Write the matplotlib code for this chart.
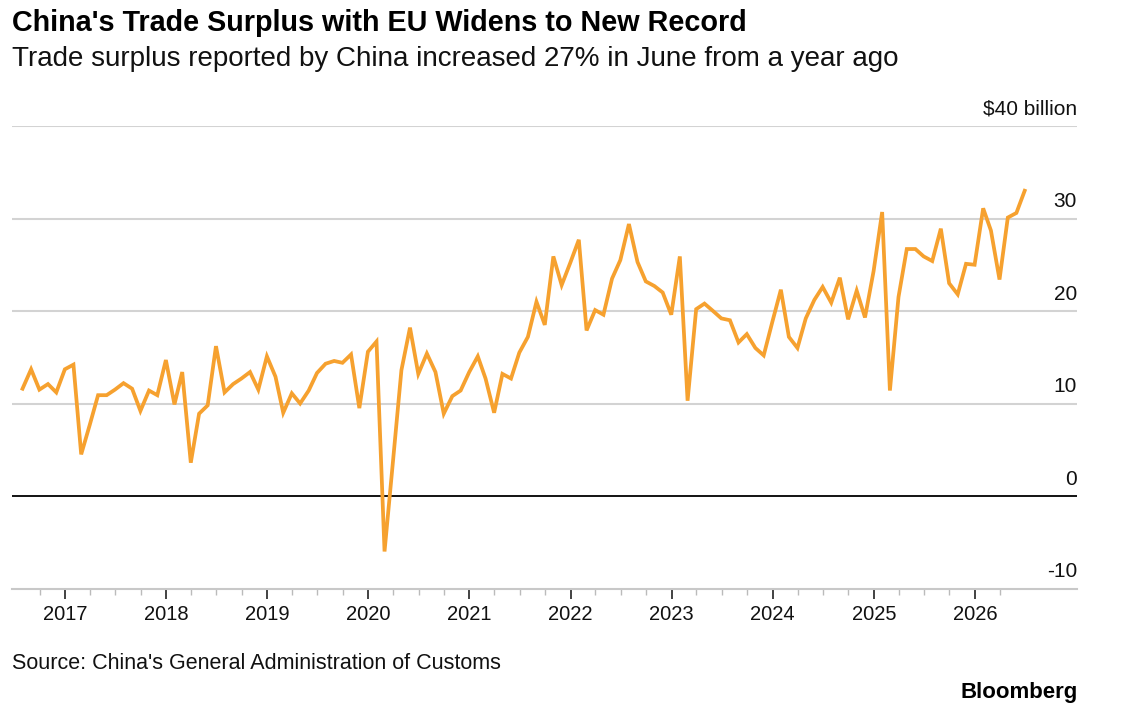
import pandas as pd
import numpy as np
import matplotlib
matplotlib.use('Agg')
import matplotlib.pyplot as plt
import matplotlib.dates as mdates

# Monthly trade surplus with the EU, $ billion (Jul 2016 - Jun 2026)
surplus = [
    11.6, 13.7, 11.5, 12.1, 11.2, 13.7, 14.2, 4.5, 7.7, 10.9, 10.9, 11.5,
    12.2, 11.6, 9.2, 11.4, 10.9, 14.7, 9.9, 13.4, 3.6, 8.9, 9.8, 16.2,
    11.2, 12.1, 12.7, 13.4, 11.5, 15.1, 12.9, 9.0, 11.1, 10.0, 11.4, 13.3,
    14.3, 14.6, 14.4, 15.3, 9.5, 15.6, 16.7, -6.0, 3.9, 13.6, 18.2, 13.2,
    15.4, 13.4, 8.9, 10.8, 11.4, 13.4, 15.1, 12.7, 9.0, 13.2, 12.7, 15.5,
    17.2, 21.0, 18.5, 25.9, 22.8, 25.2, 27.7, 17.9, 20.1, 19.6, 23.5, 25.5,
    29.4, 25.3, 23.2, 22.7, 22.0, 19.6, 25.9, 10.3, 20.2, 20.8, 20.0, 19.2,
    19.0, 16.6, 17.5, 16.0, 15.2, 18.8, 22.3, 17.2, 16.0, 19.2, 21.2, 22.6,
    20.9, 23.6, 19.1, 22.2, 19.3, 24.3, 30.7, 11.4, 21.5, 26.7, 26.7, 25.9,
    25.4, 28.9, 23.0, 21.8, 25.1, 25.0, 31.1, 28.7, 23.4, 30.1, 30.6, 33.0,
]
dates = pd.date_range('2016-07-31', periods=len(surplus), freq='ME')

y_ticks = [-10, 0, 10, 20, 30, 40]
y_labels = ['-10', '0', '10', '20', '30', '$40 billion']
years = list(range(2017, 2027))

plt.rcParams['font.family'] = ['Liberation Sans', 'DejaVu Sans']

W, H = 1130, 712
fig = plt.figure(figsize=(W / 100, H / 100), dpi=100)
left, right, top, bottom = 12, 1077, 126, 588.5
ax = fig.add_axes([left / W, 1 - bottom / H, (right - left) / W, (bottom - top) / H])

ax.set_xlim(pd.Timestamp('2016-06-23'), pd.Timestamp('2027-01-05'))
ax.set_ylim(-10, 40)

# gridlines
for v in y_ticks[1:]:
    if v == 0:
        ax.axhline(v, color='black', lw=1.3, zorder=2)
    else:
        ax.axhline(v, color='#d3d3d3', lw=1.5, zorder=1)

ax.plot(dates, surplus, color='#F6A12F', lw=2.7, solid_joinstyle='miter', zorder=3)

# y labels sit above gridlines at the right edge
for v, lab in zip(y_ticks, y_labels):
    ax.annotate(lab, xy=(1, v), xycoords=('axes fraction', 'data'),
                xytext=(0, 8), textcoords='offset points',
                ha='right', va='baseline', fontsize=15, color='#111111')

for s in ['left', 'right', 'top']:
    ax.spines[s].set_visible(False)
ax.spines['bottom'].set_color('#c8c8c8')
ax.spines['bottom'].set_linewidth(1.5)
ax.set_yticks([])

major = [pd.Timestamp(f'{y}-01-01') for y in years]
ax.set_xticks(major)
ax.set_xticklabels([str(y) for y in years])
minor = pd.date_range('2016-10-01', '2026-04-01', freq='QS')
ax.xaxis.set_minor_locator(matplotlib.ticker.FixedLocator(mdates.date2num(minor)))
ax.tick_params(axis='x', which='major', length=7, width=1.2, color='#222222',
               labelsize=14.5, pad=5, labelcolor='#111111')
ax.tick_params(axis='x', which='minor', length=4, width=1, color='#bbbbbb')

fig.text(12 / W, 1 - 31 / H, "China's Trade Surplus with EU Widens to New Record",
         fontsize=20.7, fontweight='bold', ha='left', va='baseline', color='black')
fig.text(12 / W, 1 - 66 / H, "Trade surplus reported by China increased 27% in June from a year ago",
         fontsize=20, ha='left', va='baseline', color='#111111')
fig.text(12 / W, 1 - 669 / H, "Source: China's General Administration of Customs",
         fontsize=15.5, ha='left', va='baseline', color='#111111')
fig.text(1078 / W, 1 - 698 / H, "Bloomberg",
         fontsize=16, fontweight='bold', ha='right', va='baseline', color='black')

fig.savefig('out.png', dpi=100)
